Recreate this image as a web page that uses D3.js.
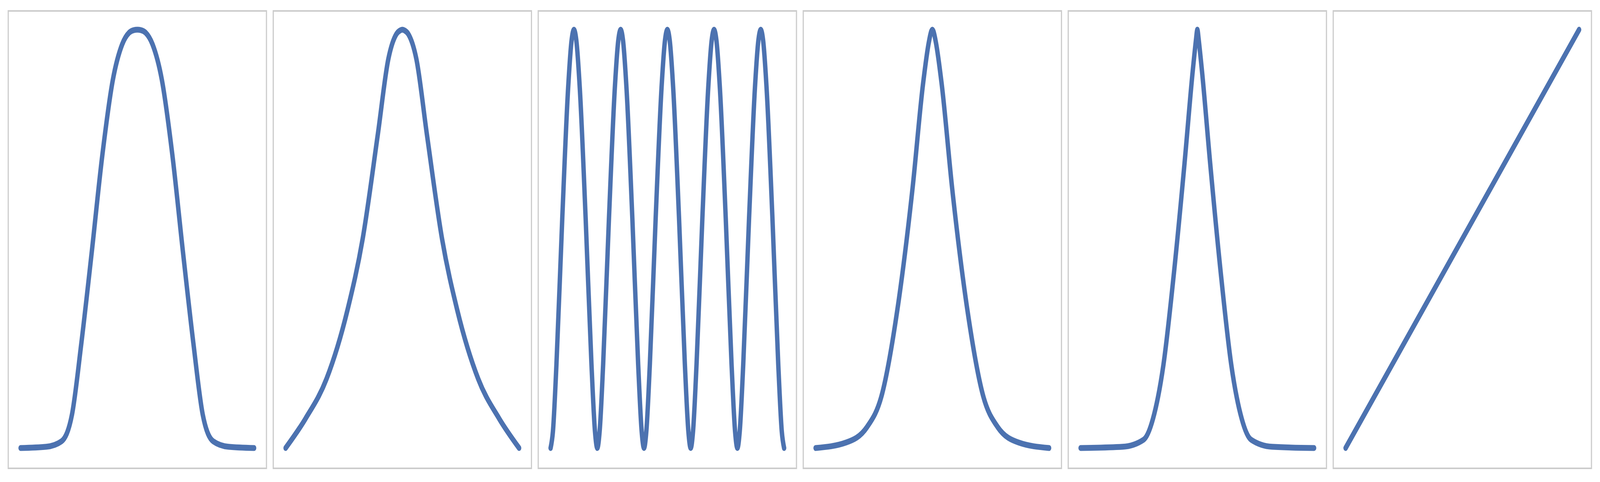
<!DOCTYPE html>
<html><head><meta charset="utf-8">
<script src="https://cdn.jsdelivr.net/npm/d3@7"></script>
<style>html,body{margin:0;padding:0;background:#fff;overflow:hidden}svg{display:block}</style></head>
<body><svg id="c" viewBox="0 0 5434 1234" preserveAspectRatio="none" style="width:100vw;height:100vh"></svg>
<script>
// half-curves (x from -1 to 0), mirrored to the right
const gaussHalf = [[-1,0],[-0.78,0.003],[-0.65,0.016],[-0.56,0.08],[-0.48,0.25],[-0.39,0.47],[-0.30,0.70],[-0.21,0.88],[-0.13,0.965],[-0.07,0.993],[-0.03,0.999],[0,1]];
const cuspHalf = [[-1,0],[-0.83,0.07],[-0.65,0.165],[-0.47,0.33],[-0.34,0.5],[-0.21,0.75],[-0.12,0.93],[-0.05,0.99],[-0.02,0.998],[0,1]];
const lorentzHalf = [[-1,0],[-0.74,0.013],[-0.56,0.05],[-0.43,0.13],[-0.30,0.33],[-0.17,0.62],[-0.08,0.87],[-0.03,0.97],[-0.008,0.997],[0,1]];
const sharpHalf = [[-1,0],[-0.64,0.003],[-0.46,0.02],[-0.38,0.07],[-0.29,0.2],[-0.2,0.42],[-0.11,0.68],[-0.04,0.9],[-0.01,0.98],[-0.003,0.997],[0,1]];
// one rising half-period of the wave (phase 0..1 -> value)
const waveHalf = [[0,0],[0.1,0.04],[0.25,0.2],[0.5,0.55],[0.75,0.86],[0.9,0.975],[1,1]];
const wavePeriods = 5;
const linePts = [[-1,0],[1,1]];

function mirror(h){ const r=h.map(d=>[-d[0],d[1]]).reverse().slice(1); return h.concat(r); }
function wave(){
  const pts=[]; const hp=2/(wavePeriods*2);
  for(let p=0;p<wavePeriods*2;p++){
    const rising = p%2===0;
    waveHalf.forEach((d,i)=>{ if(p>0&&i===0) return;
      const ph = rising? d[0] : 1-waveHalf[waveHalf.length-1-i][0];
      const v = rising? d[1] : waveHalf[waveHalf.length-1-i][1];
      pts.push([-1+(p+ph)*hp, v]); });
  }
  return pts;
}
const panels=[mirror(gaussHalf),mirror(cuspHalf),wave(),mirror(lorentzHalf),mirror(sharpHalf),linePts];
const svg=d3.select("#c");
const W=877,H=1171,X0=28,Y0=28,STEP=900;
panels.forEach((data,i)=>{
  const g=svg.append("g").attr("transform",`translate(${X0+i*STEP},${Y0})`);
  g.append("rect").attr("x",0).attr("y",0).attr("width",W).attr("height",H).attr("fill","none").attr("stroke","#cccccc").attr("stroke-width",4);
  const x=d3.scaleLinear().domain([-1,1]).range([42,W-42]);
  const y=d3.scaleLinear().domain([0,1]).range([H-52,48]);
  g.append("path").datum(data).attr("d",d3.line().x(d=>x(d[0])).y(d=>y(d[1])).curve(d3.curveMonotoneX))
   .attr("fill","none").attr("stroke","#4c72b0").attr("stroke-width",15).attr("stroke-linecap","round").attr("stroke-linejoin","round");
});
</script></body></html>
